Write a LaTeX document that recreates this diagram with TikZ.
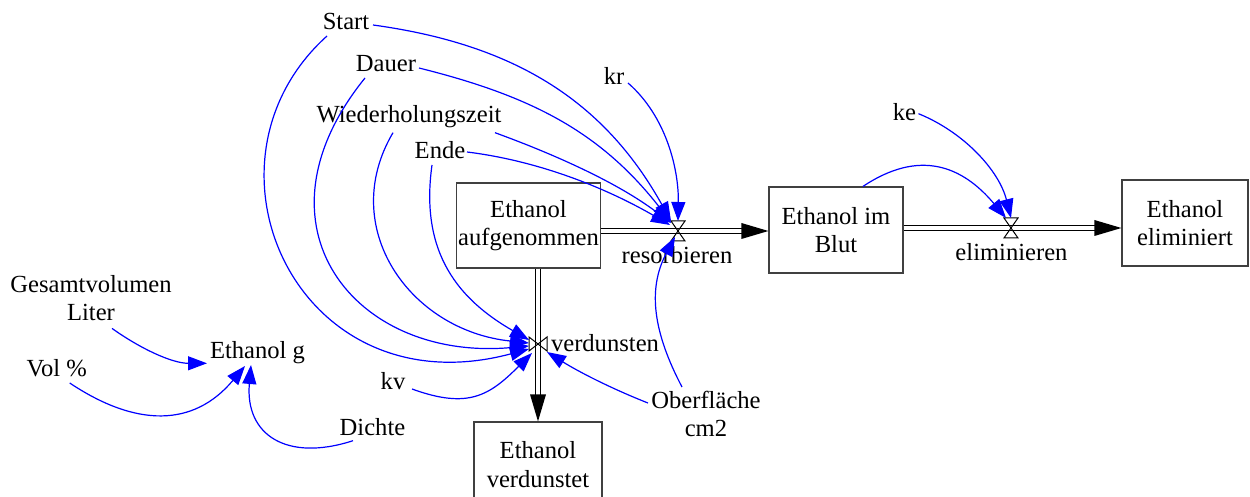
\documentclass[tikz,border=0pt]{standalone}
\usepackage{fontspec}
\setmainfont{Liberation Serif}
\usetikzlibrary{arrows.meta}
\begin{document}
\begin{tikzpicture}[x=0.5pt,y=-0.5pt,
  every node/.style={font=\fontsize{12.3}{14.15}\selectfont, inner sep=0.75pt},
  var/.style={anchor=base},
  stockbox/.style={draw=black!75, line width=0.6pt, align=center},
  valveh/.style={minimum width=7pt, minimum height=10pt, inner sep=0pt, outer sep=0pt},
  valvev/.style={minimum width=9pt, minimum height=7pt, inner sep=0pt, outer sep=0pt},
  valveline/.style={draw=black, line width=0.5pt},
  pipe/.style={draw=black, line width=0.6pt, double=white, double distance=1.8pt},
  conn/.style={draw=blue, line width=0.6pt, -{Triangle[length=9.5pt,width=7pt]}}
]
\useasboundingbox (0,0) rectangle (1250,497);

% stocks
\node[stockbox, minimum width=71.5pt, minimum height=42.5pt] (b1) at (528.5,225.5) {Ethanol\\aufgenommen};
\node[stockbox, minimum width=67pt, minimum height=43pt] (b2) at (836,230) {Ethanol im\\Blut};
\node[stockbox, minimum width=63pt, minimum height=43pt] (b3) at (1185,223) {Ethanol\\eliminiert};
\node[stockbox, minimum width=64pt, minimum height=42.5pt] (b4) at (538,464.5) {Ethanol\\verdunstet};

% valves
\node[valveh] (rv) at (678,231) {};
\node[valvev] (vv) at (538,344) {};
\node[valveh] (ev) at (1011,228) {};

% variables
\node[var] (Start) at (346,30) {Start};
\node[var] (Dauer) at (386,72) {Dauer};
\node[var] (W) at (409,122.7) {Wiederholungszeit};
\node[var] (Ende) at (440,159) {Ende};
\node[var] (kr) at (614,85) {kr};
\node[var] (ke) at (904.5,120.7) {ke};
\node[align=center] (GL) at (91,298.4) {Gesamtvolumen\\Liter};
\node[var] (EG) at (257.5,358.3) {Ethanol g};
\node[var] (Vol) at (56.7,376.7) {Vol \%};
\node[var] (Dichte) at (372.5,436) {Dichte};
\node[var] (kv) at (393,390) {kv};
\node[align=center] (Ob) at (706,414) {Oberfläche\\cm2};
\node[var] (lverd) at (605,352) {verdunsten};
\node[var] (lres) at (677,263.3) {resorbieren};
\node[var] (lelim) at (1011.5,261) {eliminieren};

% pipes
\coordinate (t1) at (b2.west |- rv);
\coordinate (t2) at (b3.west |- ev);
\coordinate (t3) at (b4.north -| vv);
\draw[pipe] (b1.east |- rv) -- ([shift={(-25,0)}]t1);
\draw[pipe] (b2.east |- ev) -- ([shift={(-25,0)}]t2);
\draw[pipe] (b1.south -| vv) -- ([shift={(0,-25)}]t3);
\fill[black] (t1) -- ([shift={(-27,-8)}]t1) -- ([shift={(-27,8)}]t1) -- cycle;
\fill[black] (t2) -- ([shift={(-27,-8)}]t2) -- ([shift={(-27,8)}]t2) -- cycle;
\fill[black] (t3) -- ([shift={(-8,-27)}]t3) -- ([shift={(8,-27)}]t3) -- cycle;

% valve symbols
\draw[valveline] (rv.north west) -- (rv.north east) -- (rv.south west) -- (rv.south east) -- cycle;
\draw[valveline] (ev.north west) -- (ev.north east) -- (ev.south west) -- (ev.south east) -- cycle;
\draw[valveline] (vv.north west) -- (vv.south west) -- (vv.north east) -- (vv.south east) -- cycle;

% connectors to resorbieren
\draw[conn] ([shift={(27,-5)}]Start.base) .. controls +(139,19) and +(-68,-122) .. (rv.north west);
\draw[conn] ([shift={(33,-4)}]Dauer.base) .. controls +(111.6,27.8) and +(-70.8,-90.6) .. ([shift={(0,1)}]rv.north west);
\draw[conn] ([shift={(86,10)}]W.base) .. controls +(62,22.6) and +(-52.7,-39.7) .. ([shift={(0,2)}]rv.north west);
\draw[conn] ([shift={(27,-7)}]Ende.base) .. controls +(72.5,8.9) and +(-63,-36.5) .. ([shift={(-1,4)}]rv.north west);
\draw[conn] ([shift={(14,-2)}]kr.base) .. controls +(38.5,33.5) and +(0.9,-51) .. (rv.north);
\draw[conn] ([shift={(-24,-27)}]Ob.center) .. controls +(-27.9,-53.1) and +(-28.2,53) .. ([shift={(-3,6)}]rv.center);

% connectors to verdunsten
\draw[conn] ([shift={(-19,6)}]Start.base) .. controls +(-141,127) and +(-232,62) .. ([shift={(0,5)}]vv.west);
\draw[conn] ([shift={(-21,6)}]Dauer.base) .. controls +(-119.6,147.7) and +(-174.3,15.3) .. ([shift={(0,2)}]vv.west);
\draw[conn] ([shift={(-16,10)}]W.base) .. controls +(-56,94.7) and +(-119.3,-12.5) .. ([shift={(0,-1)}]vv.west);
\draw[conn] ([shift={(-8,6)}]Ende.base) .. controls +(-12.5,89.1) and +(-69.3,-40) .. ([shift={(0,-4)}]vv.west);
\draw[conn] ([shift={(19,-1)}]kv.base) .. controls +(56.4,20.5) and +(-42.4,42.4) .. ([shift={(3,2)}]vv.south west);
\draw[conn] ([shift={(-58,-11)}]Ob.center) .. controls +(-35.4,-13.9) and +(32.2,20.1) .. ([shift={(0,1)}]vv.south east);

% connectors to eliminieren
\draw[conn] ([shift={(14,-7)}]ke.base) .. controls +(45.4,18.4) and +(-11.9,-47.5) .. (ev.north);
\draw[conn] ([shift={(27,0)}]b2.north) .. controls +(56.6,-37.7) and +(-43.7,-52.1) .. ([shift={(2,0)}]ev.north west);

% connectors to Ethanol g
\draw[conn] ([shift={(21,30)}]GL.center) .. controls +(28.5,20.3) and +(-35,0) .. ([shift={(-50.5,5)}]EG.base);
\draw[conn] ([shift={(13,6.3)}]Vol.base) .. controls +(66.6,44.4) and +(-51.4,61.3) .. ([shift={(-12.5,7.7)}]EG.base);
\draw[conn] ([shift={(-19.5,4.7)}]Dichte.base) .. controls +(-66.6,21.6) and +(-6.1,69.7) .. ([shift={(-6.5,6.7)}]EG.base);
\end{tikzpicture}
\end{document}
